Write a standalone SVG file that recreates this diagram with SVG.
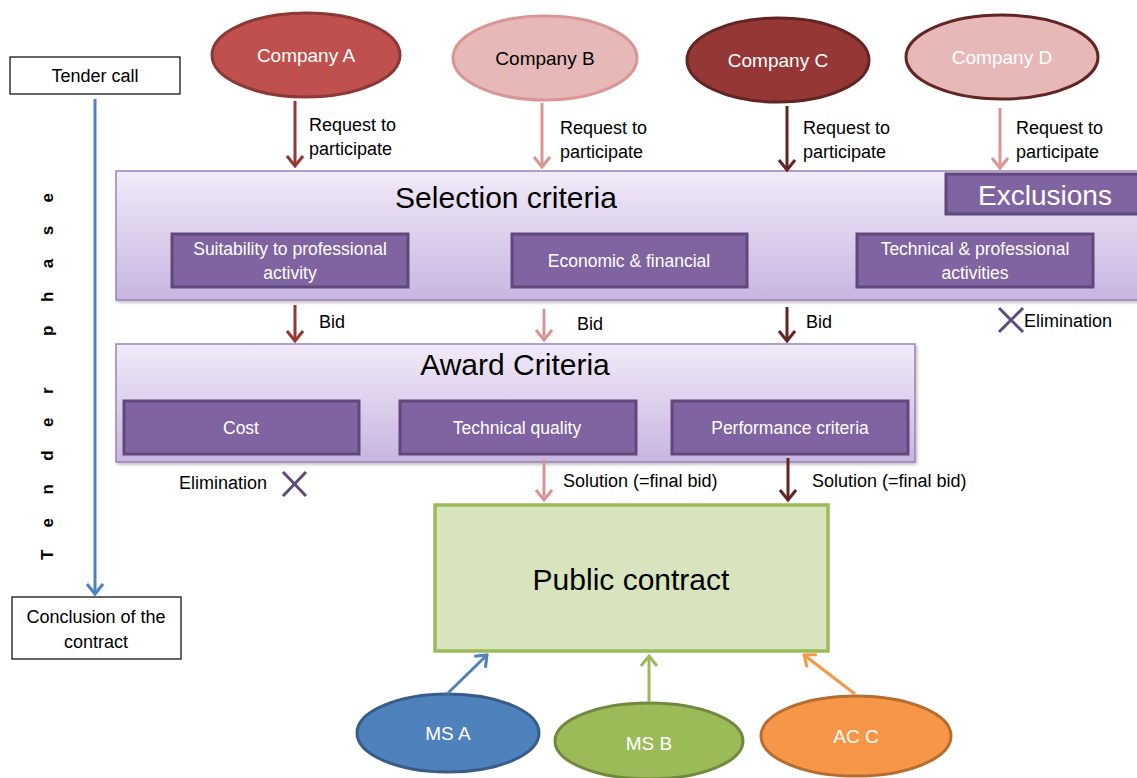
<svg xmlns="http://www.w3.org/2000/svg" width="1137" height="778" viewBox="0 0 1137 778">
  <style>
    text { font-family: "Liberation Sans", Arial, sans-serif; }
    .lbl { font-size: 18px; fill: #000; }
    .wt { fill: #fff; }
    .sub { fill: #8064a2; stroke: #5f497a; stroke-width: 3; }
    .subtx { font-size: 17.5px; fill: #fff; text-anchor: middle; }
    .panel { fill: url(#purpleGrad); stroke: #9b82bb; stroke-width: 1.5; }
    .note { fill: #fff; stroke: #000; stroke-width: 1.2; }
    .arr { fill: none; stroke-width: 3; }
    .oval { font-size: 19px; text-anchor: middle; }
  </style>
  <defs>
    <linearGradient id="purpleGrad" x1="0" y1="0" x2="0" y2="1">
      <stop offset="0" stop-color="#f1ebf8"/>
      <stop offset="1" stop-color="#c8b5e1"/>
    </linearGradient>
    <filter id="shadow" x="-5%" y="-5%" width="110%" height="120%">
      <feDropShadow dx="1.5" dy="2" stdDeviation="1.5" flood-color="#000" flood-opacity="0.25"/>
    </filter>
    <marker id="hRed" markerUnits="userSpaceOnUse" viewBox="0 0 13 18" refX="11" refY="9" markerWidth="13" markerHeight="18" orient="auto">
      <path d="M1,1 L11,9 L1,17" fill="none" stroke="#953735" stroke-width="3"/>
    </marker>
    <marker id="hPink" markerUnits="userSpaceOnUse" viewBox="0 0 13 18" refX="11" refY="9" markerWidth="13" markerHeight="18" orient="auto">
      <path d="M1,1 L11,9 L1,17" fill="none" stroke="#d99694" stroke-width="3"/>
    </marker>
    <marker id="hDark" markerUnits="userSpaceOnUse" viewBox="0 0 13 18" refX="11" refY="9" markerWidth="13" markerHeight="18" orient="auto">
      <path d="M1,1 L11,9 L1,17" fill="none" stroke="#632523" stroke-width="3"/>
    </marker>
    <marker id="hBlue" markerUnits="userSpaceOnUse" viewBox="0 0 13 18" refX="11" refY="9" markerWidth="13" markerHeight="18" orient="auto">
      <path d="M1,1 L11,9 L1,17" fill="none" stroke="#4f81bd" stroke-width="3"/>
    </marker>
    <marker id="hGreen" markerUnits="userSpaceOnUse" viewBox="0 0 13 18" refX="11" refY="9" markerWidth="13" markerHeight="18" orient="auto">
      <path d="M1,1 L11,9 L1,17" fill="none" stroke="#9bbb59" stroke-width="3"/>
    </marker>
    <marker id="hOrange" markerUnits="userSpaceOnUse" viewBox="0 0 13 18" refX="11" refY="9" markerWidth="13" markerHeight="18" orient="auto">
      <path d="M1,1 L11,9 L1,17" fill="none" stroke="#f79646" stroke-width="3"/>
    </marker>
  </defs>

  <rect width="1137" height="778" fill="#fff"/>

  <!-- timeline on the left -->
  <g id="tender-call">
    <rect class="note" x="10" y="57" width="170" height="37"/>
    <text class="lbl" x="95" y="82" text-anchor="middle">Tender call</text>
  </g>
  <g id="conclusion">
    <rect class="note" x="12" y="597" width="169" height="62"/>
    <text class="lbl" x="96" y="623" text-anchor="middle">Conclusion of the</text>
    <text class="lbl" x="96" y="648" text-anchor="middle">contract</text>
  </g>
  <g id="phase-label">
    <text transform="translate(53,560) rotate(-90)" font-size="17" font-weight="bold" textLength="367" lengthAdjust="spacing">Tender phase</text>
  </g>

  <!-- bidders -->
  <g id="company-a">
    <ellipse cx="306" cy="55" rx="94" ry="42" fill="#c0504d" stroke="#8c3836" stroke-width="3"/>
    <text class="oval wt" x="306" y="62">Company A</text>
  </g>
  <g id="company-b">
    <ellipse cx="545" cy="58" rx="92" ry="42" fill="#e6b9b8" stroke="#d99694" stroke-width="3"/>
    <text class="oval" x="545" y="65">Company B</text>
  </g>
  <g id="company-c">
    <ellipse cx="778" cy="60" rx="91" ry="42" fill="#953735" stroke="#632523" stroke-width="3"/>
    <text class="oval wt" x="778" y="67">Company C</text>
  </g>
  <g id="company-d">
    <ellipse cx="1002" cy="57" rx="96" ry="42" fill="#e6b9b8" stroke="#632523" stroke-width="3"/>
    <text class="oval wt" x="1002" y="64">Company D</text>
  </g>

  <!-- selection stage -->
  <g id="selection-criteria">
    <rect class="panel" x="116" y="171" width="1030" height="129" filter="url(#shadow)"/>
    <text x="506" y="208" font-size="30" text-anchor="middle">Selection criteria</text>
  </g>
  <g id="exclusions">
    <rect class="sub" x="946" y="174" width="200" height="40"/>
    <text class="wt" x="1045" y="205" font-size="28" text-anchor="middle">Exclusions</text>
  </g>
  <g id="suitability">
    <rect class="sub" x="172" y="234" width="236" height="53"/>
    <text class="subtx" x="290" y="255">Suitability to professional</text>
    <text class="subtx" x="290" y="279">activity</text>
  </g>
  <g id="economic">
    <rect class="sub" x="512" y="234" width="235" height="53"/>
    <text class="subtx" x="629" y="267">Economic &amp; financial</text>
  </g>
  <g id="technical-professional">
    <rect class="sub" x="857" y="234" width="236" height="53"/>
    <text class="subtx" x="975" y="255">Technical &amp; professional</text>
    <text class="subtx" x="975" y="279">activities</text>
  </g>

  <!-- award stage -->
  <g id="award-criteria">
    <rect class="panel" x="116" y="344" width="799" height="118" filter="url(#shadow)"/>
    <text x="515" y="375" font-size="30" text-anchor="middle">Award Criteria</text>
  </g>
  <g id="cost">
    <rect class="sub" x="124" y="401" width="235" height="53"/>
    <text class="subtx" x="241" y="434">Cost</text>
  </g>
  <g id="technical-quality">
    <rect class="sub" x="400" y="401" width="236" height="53"/>
    <text class="subtx" x="517" y="434">Technical quality</text>
  </g>
  <g id="performance">
    <rect class="sub" x="672" y="401" width="236" height="53"/>
    <text class="subtx" x="790" y="434">Performance criteria</text>
  </g>

  <!-- contract and member states -->
  <g id="public-contract">
    <rect x="435" y="505" width="393" height="146" fill="#d7e4bd" stroke="#9bbb59" stroke-width="3.5"/>
    <text x="631" y="590" font-size="30" text-anchor="middle">Public contract</text>
  </g>
  <g id="ms-a">
    <ellipse cx="448" cy="733" rx="91" ry="39" fill="#4f81bd" stroke="#385d8a" stroke-width="3"/>
    <text class="oval wt" x="448" y="740">MS A</text>
  </g>
  <g id="ms-b">
    <ellipse cx="649" cy="741" rx="94" ry="38" fill="#9bbb59" stroke="#71893f" stroke-width="3"/>
    <text class="oval wt" x="649" y="750">MS B</text>
  </g>
  <g id="ac-c">
    <ellipse cx="856" cy="736" rx="95" ry="40" fill="#f79646" stroke="#b66d31" stroke-width="3"/>
    <text class="oval wt" x="856" y="743">AC C</text>
  </g>

  <!-- connectors -->
  <g id="connectors">
    <path class="arr" d="M95,99 V594" stroke="#4f81bd" marker-end="url(#hBlue)"/>

    <path class="arr" d="M295,101 V166" stroke="#953735" marker-end="url(#hRed)"/>
    <path class="arr" d="M542,103 V167" stroke="#d99694" marker-end="url(#hPink)"/>
    <path class="arr" d="M787,106 V170" stroke="#632523" marker-end="url(#hDark)"/>
    <path class="arr" d="M1000,108 V168" stroke="#d99694" marker-end="url(#hPink)"/>

    <path class="arr" d="M295,305 V341" stroke="#953735" marker-end="url(#hRed)"/>
    <path class="arr" d="M544,309 V340" stroke="#d99694" marker-end="url(#hPink)"/>
    <path class="arr" d="M787,307 V341" stroke="#632523" marker-end="url(#hDark)"/>

    <path class="arr" d="M544,460 V500" stroke="#d99694" marker-end="url(#hPink)"/>
    <path class="arr" d="M788,458 V500" stroke="#632523" marker-end="url(#hDark)"/>

    <path class="arr" d="M447,694 L487,655" stroke="#4f81bd" marker-end="url(#hBlue)"/>
    <path class="arr" d="M649,702 V656" stroke="#9bbb59" marker-end="url(#hGreen)"/>
    <path class="arr" d="M855,694 L804,655" stroke="#f79646" marker-end="url(#hOrange)"/>

    <!-- elimination marks -->
    <path d="M999,308 L1023,332 M1023,308 L999,332" stroke="#604a7b" stroke-width="3" fill="none"/>
    <path d="M283,472 L306,496 M306,472 L283,496" stroke="#604a7b" stroke-width="3" fill="none"/>
  </g>

  <!-- connector labels -->
  <g id="connector-labels">
    <text class="lbl" x="309" y="131">Request to</text>
    <text class="lbl" x="309" y="155">participate</text>
    <text class="lbl" x="560" y="134">Request to</text>
    <text class="lbl" x="560" y="158">participate</text>
    <text class="lbl" x="803" y="134">Request to</text>
    <text class="lbl" x="803" y="158">participate</text>
    <text class="lbl" x="1016" y="134">Request to</text>
    <text class="lbl" x="1016" y="158">participate</text>

    <text class="lbl" x="319" y="328">Bid</text>
    <text class="lbl" x="577" y="330">Bid</text>
    <text class="lbl" x="806" y="328">Bid</text>
    <text class="lbl" x="1024" y="327">Elimination</text>

    <text class="lbl" x="179" y="489">Elimination</text>
    <text class="lbl" x="563" y="487">Solution (=final bid)</text>
    <text class="lbl" x="812" y="487">Solution (=final bid)</text>
  </g>
</svg>
